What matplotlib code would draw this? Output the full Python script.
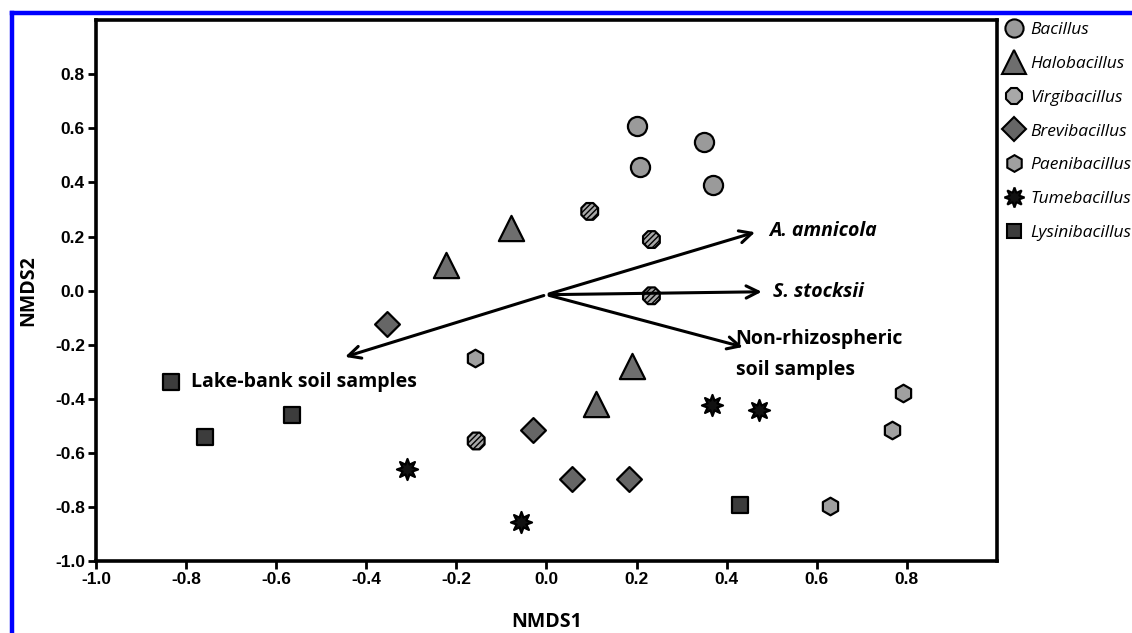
import numpy as np
import matplotlib.pyplot as plt
from matplotlib.lines import Line2D

# genus groups: NMDS coordinates
bacillus_x = [0.20, 0.207, 0.349, 0.369]
bacillus_y = [0.608, 0.459, 0.548, 0.389]
halobacillus_x = [-0.224, -0.078, 0.189, 0.111]
halobacillus_y = [0.093, 0.230, -0.278, -0.419]
virgibacillus_x = [0.096, 0.233, 0.233, -0.156]
virgibacillus_y = [0.293, 0.189, -0.019, -0.556]
brevibacillus_x = [-0.353, -0.029, 0.056, 0.184]
brevibacillus_y = [-0.122, -0.515, -0.696, -0.696]
paenibacillus_x = [-0.158, 0.791, 0.767, 0.629]
paenibacillus_y = [-0.248, -0.378, -0.515, -0.796]
tumebacillus_x = [-0.309, -0.056, 0.367, 0.471]
tumebacillus_y = [-0.659, -0.856, -0.422, -0.441]
lysinibacillus_x = [-0.833, -0.758, -0.564, 0.429]
lysinibacillus_y = [-0.337, -0.541, -0.459, -0.793]

# environmental vectors
vec_names = ["A. amnicola", "S. stocksii", "Non-rhizospheric\nsoil samples", "Lake-bank soil samples"]
vec_x = [0.469, 0.484, 0.442, -0.453]
vec_y = [0.219, -0.004, -0.211, -0.248]
origin = (0.0, -0.015)

plt.rcParams["hatch.color"] = "#555555"
plt.rcParams["hatch.linewidth"] = 1.0

fig = plt.figure(figsize=(11.32, 6.33), dpi=100)
ax = fig.add_axes([0.0848, 0.1137, 0.7959, 0.8543])

groups = [
    ("Bacillus", bacillus_x, bacillus_y, dict(marker="o", s=190, facecolor="#9a9a9a", hatch=None)),
    ("Halobacillus", halobacillus_x, halobacillus_y, dict(marker="^", s=330, facecolor="#6e6e6e", hatch=None)),
    ("Virgibacillus", virgibacillus_x, virgibacillus_y, dict(marker="8", s=170, facecolor="#a8a8a8", hatch="//////")),
    ("Brevibacillus", brevibacillus_x, brevibacillus_y, dict(marker="D", s=160, facecolor="#666666", hatch=None)),
    ("Paenibacillus", paenibacillus_x, paenibacillus_y, dict(marker="h", s=160, facecolor="#a0a0a0", hatch=None)),
    ("Tumebacillus", tumebacillus_x, tumebacillus_y, dict(marker=(8, 1, 0), s=230, facecolor="#111111", hatch=None)),
    ("Lysinibacillus", lysinibacillus_x, lysinibacillus_y, dict(marker="s", s=120, facecolor="#3c3c3c", hatch=None)),
]

handles = []
for name, xs, ys, st in groups:
    ax.scatter(xs, ys, marker=st["marker"], s=st["s"], facecolor=st["facecolor"],
               edgecolor="black", linewidth=1.6, hatch=st["hatch"], zorder=3)
    handles.append(Line2D([], [], linestyle="none", marker=st["marker"],
                          markersize=np.sqrt(st["s"]) * 0.95, markerfacecolor=st["facecolor"],
                          markeredgecolor="black", markeredgewidth=1.5, label=name))

# arrows
for name, vx, vy in zip(vec_names, vec_x, vec_y):
    ax.annotate("", xy=(vx, vy), xytext=origin,
                arrowprops=dict(arrowstyle="->", color="black", lw=2.2, mutation_scale=22), zorder=4)

lab_font = dict(family="Open Sans", fontsize=14, fontweight="bold")
ax.text(0.495, 0.219, "A. amnicola", style="italic", va="center", ha="left", **lab_font)
ax.text(0.502, -0.004, "S. stocksii", style="italic", va="center", ha="left", **lab_font)
ax.text(0.42, -0.235, "Non-rhizospheric\nsoil samples", va="center", ha="left", linespacing=1.75, **lab_font)
ax.text(-0.79, -0.337, "Lake-bank soil samples", va="center", ha="left", **lab_font)

ax.set_xlim(-1.0, 1.0)
ax.set_ylim(-1.0, 1.0)
ticks = np.round(np.arange(-1.0, 0.81, 0.2), 1) + 0.0
tick_labels = [f"{t:.1f}".replace("-0.0", "0.0") for t in ticks]
ax.set_xticks(ticks)
ax.set_yticks(ticks)
ax.set_xticklabels(tick_labels)
ax.set_yticklabels(tick_labels)
for lbl in ax.get_xticklabels() + ax.get_yticklabels():
    lbl.set_family("Liberation Sans")
    lbl.set_fontweight("bold")
    lbl.set_fontsize(12.5)
ax.tick_params(direction="out", length=6, width=2, pad=2)
for sp in ax.spines.values():
    sp.set_linewidth(2.6)

ax.set_xlabel("NMDS1", family="Open Sans", fontsize=14, fontweight="bold", labelpad=18)
ax.set_ylabel("NMDS2", family="Open Sans", fontsize=14, fontweight="bold", labelpad=12)

leg = ax.legend(handles=handles, loc="upper left", bbox_to_anchor=(1.0, 1.01), frameon=False,
                labelspacing=1.02, handletextpad=0.3, borderaxespad=0.0, handlelength=1.2,
                prop=dict(family="Open Sans", style="italic", size=12.5))

# blue frame at top and left
fig.add_artist(Line2D([0.0106, 1.0], [0.9795, 0.9795], color="#0000ff", lw=3.2, transform=fig.transFigure))
fig.add_artist(Line2D([0.0106, 0.0106], [0.0, 0.9795], color="#0000ff", lw=3.2, transform=fig.transFigure))

fig.savefig("out.png", dpi=100)
